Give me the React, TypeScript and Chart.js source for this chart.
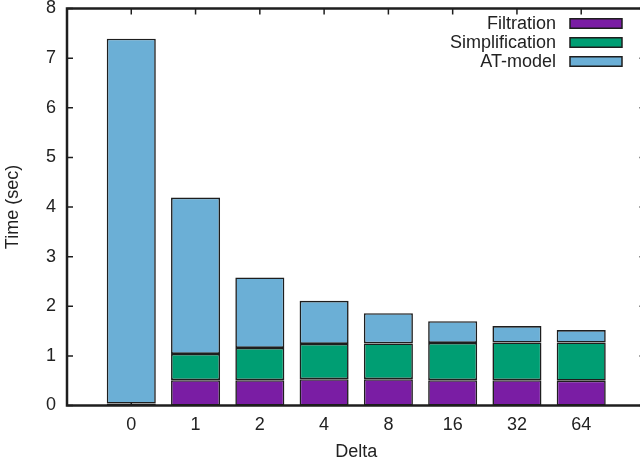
import React, { useEffect, useRef } from 'react';
import { Chart, registerables } from 'chart.js';

Chart.register(...registerables);

const categories = ['0', '1', '2', '4', '8', '16', '32', '64'];
const filtration = [0.04, 0.51, 0.51, 0.53, 0.53, 0.51, 0.51, 0.5];
const simplification = [0, 0.53, 0.65, 0.71, 0.72, 0.75, 0.76, 0.77];
const atModel = [7.35, 3.15, 1.42, 0.87, 0.61, 0.44, 0.33, 0.25];
const yTicks = [0, 1, 2, 3, 4, 5, 6, 7, 8];
const seriesLabels = ['Filtration', 'Simplification', 'AT-model'];
const seriesColors = ['#7a1da4', '#009e73', '#6bafd6'];

const FAMILY = '"Liberation Sans", Arial, Helvetica, sans-serif';
const TEXT = '#222222';
const LINE = '#1e1e1e';

const framePlugin = {
  id: 'frame',
  beforeDatasetsDraw(chart: any) {
    const { ctx, chartArea, scales } = chart;
    ctx.save();
    ctx.strokeStyle = LINE;
    ctx.lineWidth = 1.5;
    categories.forEach((_, i) => {
      const px = scales.x.getPixelForValue(i);
      ctx.beginPath();
      ctx.moveTo(px, chartArea.bottom);
      ctx.lineTo(px, chartArea.bottom - 6);
      ctx.stroke();
    });
    ctx.restore();
  },
  afterDatasetsDraw(chart: any) {
    const { ctx, chartArea, scales } = chart;
    const { left, right, top, bottom } = chartArea;
    ctx.save();
    ctx.strokeStyle = LINE;
    ctx.lineWidth = 1.5;
    yTicks.forEach((v) => {
      const py = scales.y.getPixelForValue(v);
      ctx.beginPath();
      ctx.moveTo(left, py);
      ctx.lineTo(left + 6, py);
      ctx.moveTo(right, py);
      ctx.lineTo(right - 6, py);
      ctx.stroke();
    });
    categories.forEach((_, i) => {
      const px = scales.x.getPixelForValue(i);
      ctx.beginPath();
      ctx.moveTo(px, top);
      ctx.lineTo(px, top + 6);
      ctx.stroke();
    });
    ctx.lineWidth = 2.5;
    ctx.strokeRect(left, top, right - left, bottom - top);
    ctx.restore();
  },
  afterDraw(chart: any) {
    const { ctx } = chart;
    ctx.save();
    ctx.font = `18px ${FAMILY}`;
    ctx.textAlign = 'right';
    ctx.textBaseline = 'middle';
    chart.data.datasets.forEach((ds: any, i: number) => {
      const cy = 23.5 + 19 * i;
      ctx.fillStyle = TEXT;
      ctx.fillText(ds.label, 556, cy + 1);
      ctx.fillStyle = ds.backgroundColor;
      ctx.fillRect(570, cy - 4.75, 52, 9.5);
      ctx.strokeStyle = LINE;
      ctx.lineWidth = 1.5;
      ctx.strokeRect(570, cy - 4.75, 52, 9.5);
    });
    ctx.restore();
  },
};

export default function App() {
  const ref = useRef<HTMLCanvasElement | null>(null);

  useEffect(() => {
    if (!ref.current) return;
    const series = [filtration, simplification, atModel];
    const chart = new Chart(ref.current, {
      type: 'bar',
      data: {
        datasets: series.map((vals, s) => ({
          label: seriesLabels[s],
          data: categories.map((_, i) => ({ x: i, y: vals[i] })),
          backgroundColor: seriesColors[s],
          borderColor: LINE,
          borderWidth: 1.6,
          borderSkipped: false,
          barPercentage: 0.763,
          categoryPercentage: 1,
        })),
      },
      options: {
        responsive: false,
        animation: false,
        devicePixelRatio: 1,
        layout: { padding: { left: 0, right: 14.5, top: 8.5, bottom: 0 } },
        plugins: { legend: { display: false }, tooltip: { enabled: false } },
        scales: {
          x: {
            type: 'linear',
            min: -1,
            max: 8,
            offset: false,
            stacked: true,
            grid: { display: false, drawTicks: false },
            border: { display: false },
            afterBuildTicks: (s: any) => {
              s.ticks = categories.map((_, i) => ({ value: i }));
            },
            ticks: {
              callback: (v: any) => categories[v],
              font: { family: FAMILY, size: 18 },
              color: TEXT,
              padding: 9,
              maxRotation: 0,
              autoSkip: false,
            },
            title: {
              display: true,
              text: 'Delta',
              font: { family: FAMILY, size: 18 },
              color: TEXT,
              padding: { top: 0, bottom: 2 },
            },
            afterFit: (s: any) => {
              s.height = 59.5;
              s.paddingLeft = 0;
              s.paddingRight = 0;
            },
          },
          y: {
            min: 0,
            max: 8,
            stacked: true,
            grid: { display: false, drawTicks: false },
            border: { display: false },
            afterBuildTicks: (s: any) => {
              s.ticks = yTicks.map((v) => ({ value: v }));
            },
            ticks: {
              font: { family: FAMILY, size: 18 },
              color: TEXT,
              padding: 11,
            },
            title: {
              display: true,
              text: 'Time (sec)',
              font: { family: FAMILY, size: 18 },
              color: TEXT,
              padding: { top: 2, bottom: 0 },
            },
            afterFit: (s: any) => {
              s.width = 67;
              s.paddingTop = 0;
              s.paddingBottom = 0;
            },
          },
        },
      } as any,
      plugins: [framePlugin],
    });
    return () => chart.destroy();
  }, []);

  return (
    <div
      style={{
        position: 'fixed',
        left: 0,
        top: 0,
        width: 640,
        height: 465,
        overflow: 'hidden',
        background: '#ffffff',
      }}
    >
      <canvas ref={ref} width={660} height={465} style={{ display: 'block' }} />
    </div>
  );
}
